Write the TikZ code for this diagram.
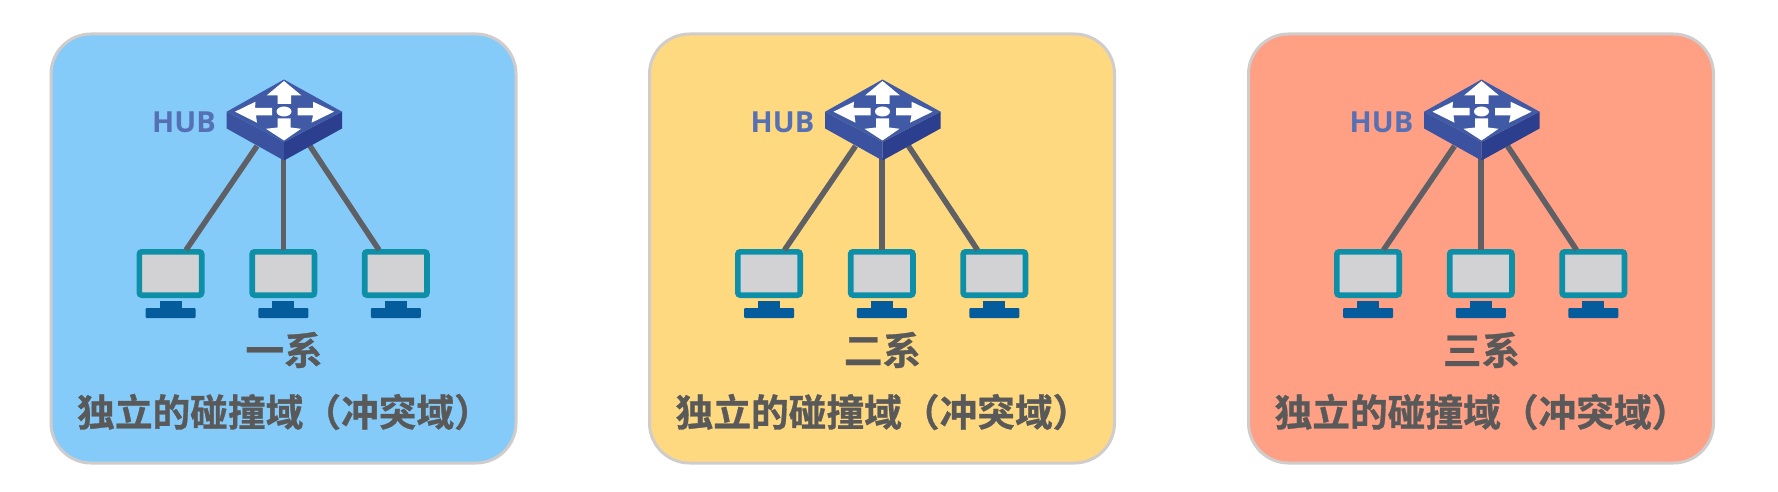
\documentclass[tikz,border=0pt]{standalone}
\usepackage{fontspec}
\newfontfamily\cjk[FakeBold=0.8]{Noto Sans CJK SC Bold}
\setmainfont{Open Sans}
\definecolor{pblue}{HTML}{85CBFA}
\definecolor{pyellow}{HTML}{FFD97F}
\definecolor{pred}{HTML}{FFA085}
\definecolor{edgeg}{HTML}{D0CCCC}
\definecolor{hubtop}{HTML}{415AA5}
\definecolor{hubleft}{HTML}{3A52A0}
\definecolor{hubright}{HTML}{2B3F8E}
\definecolor{hubtxt}{HTML}{5570B4}
\definecolor{wire}{HTML}{5F5F66}
\definecolor{teal}{HTML}{0E8FA8}
\definecolor{screen}{HTML}{D2D2D4}
\definecolor{stand}{HTML}{045C9C}
\definecolor{ink}{HTML}{595959}
\tikzset{
  x=1pt,y=-1pt,
  panelbox/.style={draw=edgeg,line width=3pt,rounded corners=40pt},
  wirelink/.style={draw=wire,line width=5.5pt},
  pcbody/.style={draw=teal,fill=screen,line width=5.7pt,rounded corners=2.5pt,minimum width=62.3pt,minimum height=43.3pt,inner sep=0pt},
  caption/.style={text=ink,inner sep=0pt},
  hublabel/.style={font=\bfseries\fontsize{29}{29}\selectfont,text=hubtxt,inner sep=0pt}
}
\newcommand{\pcunit}[3]{% name, x, panel
  \node[pcbody] (#3#1) at (#2,273.5) {};
  \fill[stand] (#2-11,301) rectangle (#2+11,309);
  \fill[stand,rounded corners=1pt] (#2-25,308) rectangle (#2+25,318);
}
\newcommand{\panelgroup}[4]{% x shift, name, fill, label
  \begin{scope}[xshift=#1pt]
    \draw[panelbox,fill=#3] (51,34) rectangle (516,463);
    \coordinate (#2hl) at (257,146);
    \coordinate (#2hc) at (283.5,158);
    \coordinate (#2hr) at (310,146);
    \pcunit{a}{170.5}{#2}
    \pcunit{b}{283.3}{#2}
    \pcunit{c}{395.8}{#2}
    \coordinate (#2ta) at (186,250);
    \coordinate (#2tb) at (283.5,250);
    \coordinate (#2tc) at (379,250);
    \draw[wirelink] (#2hl) -- (#2ta);
    \draw[wirelink] (#2hc) -- (#2tb);
    \draw[wirelink] (#2hr) -- (#2tc);
    % hub body
    \fill[hubleft] (226.7,111.7) -- (284,142) -- (284,160.5) -- (226.7,128.5) -- cycle;
    \fill[hubright] (342,111.7) -- (284,142) -- (284,160.5) -- (342,128.5) -- cycle;
    \fill[hubtop] (284,79.5) -- (342,111.7) -- (284,142) -- (226.7,111.7) -- cycle;
    % hub arrows
    \fill[white] (284,111.5) ellipse (7.5 and 5);
    \fill[white] (284,81) -- (301.5,95.5) -- (291,95.5) -- (291,104) -- (277.5,104) -- (277.5,95.5) -- (266.5,95.5) -- cycle;
    \fill[white] (284,140.5) -- (266,128.8) -- (277.5,127.5) -- (277.5,118.5) -- (290.5,118.5) -- (290.5,127.5) -- (301,128.8) -- cycle;
    \fill[white] (235,111.7) -- (255.5,101.7) -- (255,108) -- (272,108) -- (272,115.5) -- (256,115.5) -- (257,122.7) -- cycle;
    \fill[white] (334,111.7) -- (311.5,122.7) -- (313,115.5) -- (297.5,115.5) -- (297.5,108) -- (313,108) -- (313,101.7) -- cycle;
    \node[hublabel] (#2hub) at (184,122) {HUB};
    \node[caption,font=\cjk\fontsize{38.5}{38.5}\selectfont] (#2sys) at (284,350) {#4};
    \node[caption,font=\cjk\fontsize{37.7}{38}\selectfont] (#2dom) at (284.5,412) {独立的碰撞域（冲突域）};
  \end{scope}
}
\begin{document}
\begin{tikzpicture}
  \useasboundingbox (0,0) rectangle (1778,492);
  \fill[white] (0,0) rectangle (1778,492);
  \panelgroup{0}{p}{pblue}{一系}
  \panelgroup{598.5}{q}{pyellow}{二系}
  \panelgroup{1197.5}{r}{pred}{三系}
\end{tikzpicture}
\end{document}
